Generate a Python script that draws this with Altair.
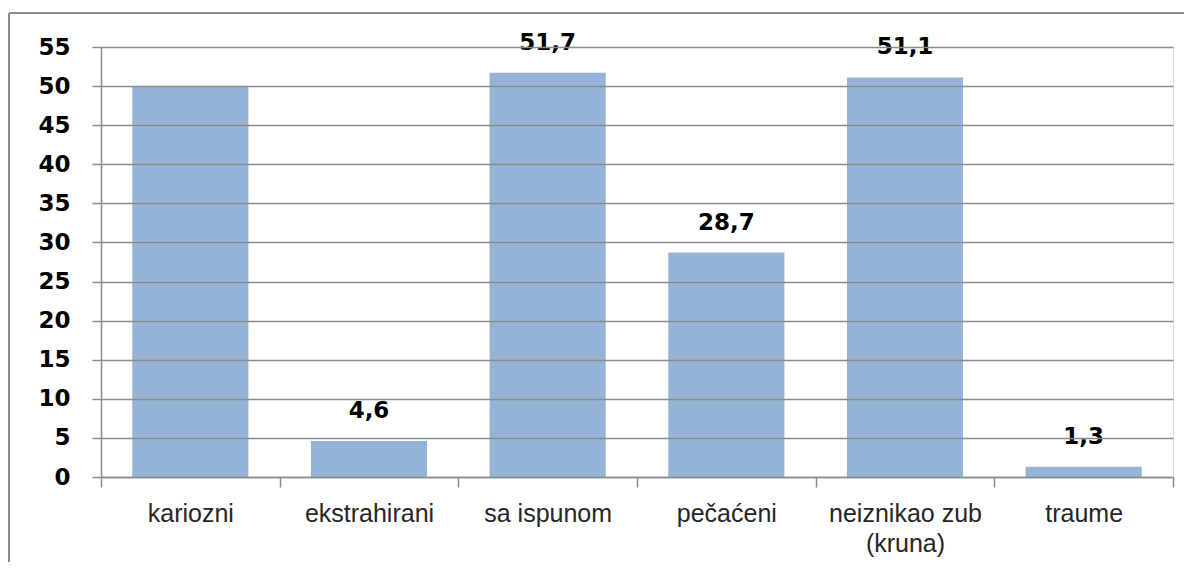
import altair as alt
import pandas as pd

categories = ["kariozni", "ekstrahirani", "sa ispunom", "pečaćeni", "neiznikao zub\n(kruna)", "traume"]
values = [50.0, 4.6, 51.7, 28.7, 51.1, 1.3]
value_labels = ["", "4,6", "51,7", "28,7", "51,1", "1,3"]
y_ticks = list(range(0, 56, 5))

df = pd.DataFrame({"cat": categories, "val": values, "lab": value_labels})

W, H = 1072, 430
x_scale = alt.Scale(domain=categories, paddingInner=0, paddingOuter=0)
y_scale = alt.Scale(domain=[0, 55], nice=False, zero=True)

x_axis = alt.Axis(labelAngle=0, tickBand="extent", domainColor="#8c8c8c",
                  tickColor="#8c8c8c", tickSize=10, tickWidth=1.5, domainWidth=1.5,
                  labelFont="Liberation Sans", labelFontSize=25, labelColor="#262626",
                  labelPadding=14, labelLineHeight=30, labelOverlap=False,
                  labelExpr="split(datum.label, '\\n')", grid=False)
y_axis = alt.Axis(values=y_ticks, grid=True, gridColor="#8c8c8c", gridWidth=1.5,
                  domainColor="#8c8c8c", domainWidth=1.5, tickColor="#8c8c8c",
                  tickWidth=1.5, tickSize=9, labelPadding=22, labelOverlap=False,
                  labelFont="DejaVu Sans", labelFontWeight=900, labelFontSize=23,
                  labelColor="#000000", zindex=1)

bars = alt.Chart(df).mark_bar(color="#95B3D7", width={"band": 0.65}).encode(
    x=alt.X("cat:N", scale=x_scale, sort=categories, title=None, axis=x_axis),
    y=alt.Y("val:Q", scale=y_scale, title=None, axis=y_axis),
)

texts = alt.Chart(df).mark_text(font="DejaVu Sans", fontWeight=900, fontSize=23,
                                color="#000000", baseline="middle", dy=-30).encode(
    x=alt.X("cat:N", scale=x_scale, sort=categories, title=None, axis=x_axis),
    y=alt.Y("val:Q", scale=y_scale, title=None, axis=y_axis),
    text="lab:N",
)

frame_left = alt.Chart(df).mark_rule(color="#8c8c8c", strokeWidth=1.5, clip=False).encode(
    x=alt.value(-92), y=alt.value(-34), y2=alt.value(H + 100))
frame_top = alt.Chart(df).mark_rule(color="#8c8c8c", strokeWidth=1.5, clip=False).encode(
    x=alt.value(-92), x2=alt.value(W + 40), y=alt.value(-34))

chart = alt.layer(bars, texts, frame_left, frame_top).properties(
    width=W, height=H,
    autosize=alt.AutoSizeParams(type="none"),
    padding={"left": 93, "top": 39, "right": 11, "bottom": 85},
).configure_view(stroke=None).configure(background="#ffffff")

chart.save("out.html", embed_options={"renderer": "svg", "actions": False})
